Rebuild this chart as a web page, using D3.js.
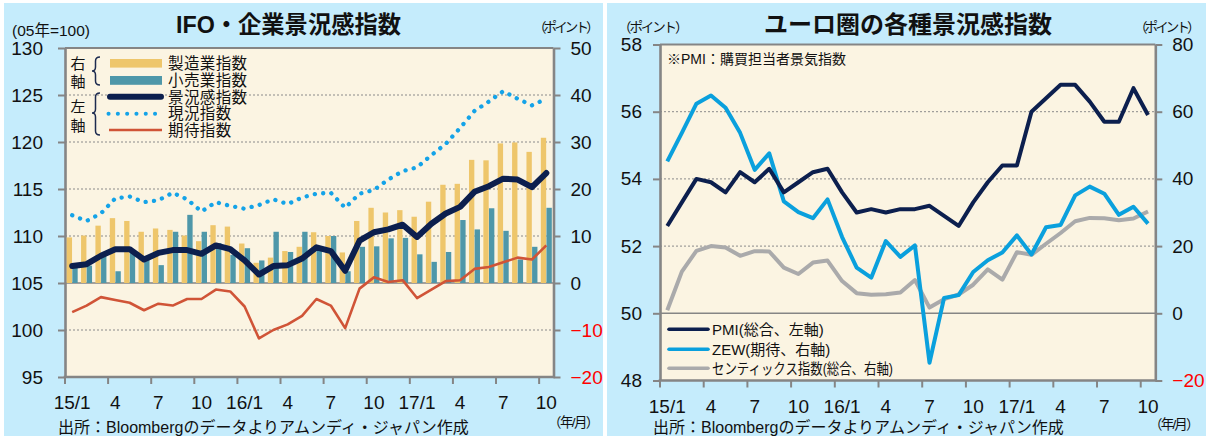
<!DOCTYPE html>
<html>
<head>
<meta charset="utf-8">
<script src="https://cdn.jsdelivr.net/npm/d3@7"></script>
<style>
  body { margin: 0; background: #fff; }
  svg { display: block; }
</style>
</head>
<body>
<svg width="1206" height="436"></svg>
<script>
// ---- data ----
var months = d3.range(34); // 2015/1 .. 2017/10
var tickMonths = [0, 3, 6, 9, 12, 15, 18, 21, 24, 27, 30, 33];
var tickLabels = ["15/1", "4", "7", "10", "16/1", "4", "7", "10", "17/1", "4", "7", "10"];

// IFO (left axis, 05=100)
var ifoClimate = [106.8, 107.0, 107.9, 108.6, 108.6, 107.5, 108.2, 108.5, 108.5, 108.1, 109.0, 108.6,
                  107.4, 105.9, 106.8, 106.9, 107.6, 108.8, 108.4, 106.3, 109.5, 110.4, 110.7, 111.2,
                  109.9, 111.3, 112.4, 113.1, 114.7, 115.3, 116.1, 116.0, 115.2, 116.7];
var ifoCurrent = [112.2, 111.6, 112.4, 114.0, 114.2, 113.6, 113.8, 114.6, 113.9, 112.6, 113.6, 113.2,
                  112.9, 113.3, 113.9, 113.4, 114.1, 114.5, 114.6, 113.0, 114.5, 114.9, 116.0, 116.9,
                  117.3, 118.6, 119.8, 121.5, 123.3, 124.3, 125.4, 124.6, 123.9, 124.6];
var ifoExpect = [101.9, 102.6, 103.5, 103.2, 102.9, 102.1, 102.8, 102.6, 103.3, 103.3, 104.3, 104.1,
                 102.5, 99.1, 100.0, 100.6, 101.5, 103.3, 102.6, 100.2, 104.4, 105.6, 105.1, 105.3,
                 103.4, 104.3, 105.2, 105.3, 106.5, 106.7, 107.2, 107.7, 107.5, 109.0];
// IFO sectors (right axis, points)
var ifoMfg = [9.7, 10.1, 12.2, 13.8, 13.2, 10.9, 11.6, 11.3, 10.1, 8.9, 12.3, 12.0,
              8.4, 4.3, 5.4, 6.8, 7.7, 10.8, 10.0, 6.5, 13.2, 16.0, 15.0, 15.5,
              14.1, 17.3, 20.9, 21.1, 26.2, 26.1, 29.7, 29.9, 27.9, 30.9];
var ifoRetail = [3.5, 3.7, 5.7, 2.5, 6.5, 5.0, 3.8, 10.9, 14.5, 10.9, 8.5, 6.0,
                 7.4, 4.8, 10.9, 6.6, 10.9, 7.0, 10.0, 2.5, 7.7, 7.8, 9.5, 9.6,
                 6.1, 4.5, 6.6, 13.4, 11.4, 15.9, 11.1, 5.0, 7.7, 16.0];

// Euro area
var pmi = [52.6, 53.3, 54.0, 53.9, 53.6, 54.2, 53.9, 54.3, 53.6, 53.9, 54.2, 54.3,
           53.6, 53.0, 53.1, 53.0, 53.1, 53.1, 53.2, 52.9, 52.6, 53.3, 53.9, 54.4,
           54.4, 56.0, 56.4, 56.8, 56.8, 56.3, 55.7, 55.7, 56.7, 55.9];
var zew = [45.2, 53.7, 62.4, 64.8, 61.2, 53.7, 42.7, 47.6, 33.3, 30.1, 28.3, 33.9,
           22.7, 13.6, 10.6, 21.5, 16.8, 20.2, -14.7, 4.6, 5.4, 12.3, 15.8, 18.1,
           23.2, 17.5, 25.6, 26.3, 35.1, 37.7, 35.6, 29.3, 31.7, 26.7];
var sentix = [0.9, 12.4, 18.6, 20.0, 19.6, 17.1, 18.5, 18.4, 13.6, 11.7, 15.1, 15.7,
              9.6, 6.0, 5.5, 5.7, 6.2, 9.9, 1.7, 4.2, 5.6, 8.5, 13.1, 10.0,
              18.2, 17.4, 20.7, 23.9, 27.4, 28.4, 28.3, 27.7, 28.2, 30.3];

var LAT = "'Liberation Sans', Arial, 'Noto Sans CJK JP', sans-serif";
var JP = "'Noto Sans CJK JP', sans-serif";
var GRAY = "#858585";
var NAVY = "#0c1f4e";

var svg = d3.select("svg");

// panel backgrounds
svg.append("rect").attr("x", 4).attr("y", 3).attr("width", 599).attr("height", 433).attr("fill", "#c5ecfc");
svg.append("rect").attr("x", 607).attr("y", 3).attr("width", 599).attr("height", 433).attr("fill", "#c5ecfc");

function txt(x, y, s, size, opts) {
  opts = opts || {};
  var t = svg.append("text")
      .attr("x", x).attr("y", y)
      .attr("font-family", opts.family || LAT)
      .attr("font-size", size)
      .attr("font-weight", opts.weight || "normal")
      .attr("fill", opts.fill || "#111")
      .attr("text-anchor", opts.anchor || "start")
      .text(s);
  if (opts.len) t.attr("textLength", opts.len).attr("lengthAdjust", "spacingAndGlyphs");
  if (opts.ls) t.attr("letter-spacing", opts.ls);
  if (opts.dy) t.attr("dy", opts.dy);
  return t;
}

function panel(cfg) {
  var g = svg.append("g");
  var x = cfg.x, yl = cfg.yl, yr = cfg.yr;
  var x0 = x.range()[0], x1 = x.range()[1];
  var top = yl.range()[1], bot = yl.range()[0];

  g.append("rect").attr("x", x0).attr("y", top).attr("width", x1 - x0).attr("height", bot - top)
    .attr("fill", "#fbf4e2");

  // dotted grid
  g.selectAll(".grid").data(cfg.grid).enter().append("line")
      .attr("x1", x0).attr("x2", x1)
      .attr("y1", function(d) { return yl(d); }).attr("y2", function(d) { return yl(d); })
      .attr("stroke", "#8a8a8a").attr("stroke-width", 1).attr("stroke-dasharray", "2,2");
  // zero line of right axis
  g.append("line").attr("x1", x0).attr("x2", x1).attr("y1", yr(0)).attr("y2", yr(0))
    .attr("stroke", GRAY).attr("stroke-width", 1.6);

  // top border
  g.append("line").attr("x1", x0).attr("x2", x1).attr("y1", top).attr("y2", top)
    .attr("stroke", GRAY).attr("stroke-width", 2);

  var left = g.append("g").attr("transform", "translate(" + x0 + ",0)")
      .call(d3.axisLeft(yl).tickValues(cfg.leftTicks).tickSize(7).tickSizeOuter(0).tickPadding(cfg.lpad));
  var right = g.append("g").attr("transform", "translate(" + x1 + ",0)")
      .call(d3.axisRight(yr).tickValues(cfg.rightTicks).tickSize(7).tickSizeOuter(0).tickPadding(10));
  [left, right].forEach(function(a) {
    a.select(".domain").attr("stroke", GRAY).attr("stroke-width", 2.6);
    a.selectAll(".tick line").attr("stroke", GRAY).attr("stroke-width", 2);
    a.selectAll(".tick text").attr("font-family", LAT).attr("font-size", 19).attr("fill", "#111");
  });
  right.selectAll(".tick text").attr("fill", function(d) { return d < 0 ? "#ff0000" : "#111"; });

  // bottom axis
  g.append("line").attr("x1", x0 - 1.3).attr("x2", x1 + 1.3).attr("y1", bot).attr("y2", bot)
    .attr("stroke", GRAY).attr("stroke-width", 2.6);
  g.selectAll(".xt").data(tickMonths).enter().append("line")
      .attr("x1", function(d) { return x(d); }).attr("x2", function(d) { return x(d); })
      .attr("y1", bot).attr("y2", bot + 7)
      .attr("stroke", GRAY).attr("stroke-width", 2);
  g.selectAll(".xl").data(tickMonths).enter().append("text")
      .attr("x", function(d) { return x(d) + x.bandwidth() / 2; })
      .attr("y", bot + 32)
      .attr("text-anchor", "middle")
      .attr("font-family", LAT).attr("font-size", 19).attr("fill", "#111")
      .text(function(d, i) { return tickLabels[i]; });
  return g;
}

// ================= left panel: IFO =================
var xL = d3.scaleBand().domain(months).range([65, 553.5]);
var yL = d3.scaleLinear().domain([95, 130]).range([377, 48]);
var yL2 = d3.scaleLinear().domain([-20, 50]).range([377, 48]);

var gL = panel({ x: xL, yl: yL, yr: yL2, grid: [100, 110, 115, 120, 125],
  leftTicks: [95, 100, 105, 110, 115, 120, 125, 130], rightTicks: [-20, -10, 0, 10, 20, 30, 40, 50], lpad: 15 });

var xSub = d3.scaleBand().domain(["mfg", "ret"]).range([0, xL.bandwidth()]).paddingInner(0.05).paddingOuter(0.3);
var barData = months.map(function(i) { return { i: i, mfg: ifoMfg[i], ret: ifoRetail[i] }; });
var bars = gL.append("g");
bars.selectAll(".mfg").data(barData).enter().append("rect")
    .attr("x", function(d) { return xL(d.i) + xSub("mfg"); })
    .attr("width", xSub.bandwidth())
    .attr("y", function(d) { return yL2(d.mfg); })
    .attr("height", function(d) { return yL2(0) - yL2(d.mfg); })
    .attr("fill", "#eec66b");
bars.selectAll(".ret").data(barData).enter().append("rect")
    .attr("x", function(d) { return xL(d.i) + xSub("ret"); })
    .attr("width", xSub.bandwidth())
    .attr("y", function(d) { return yL2(d.ret); })
    .attr("height", function(d) { return yL2(0) - yL2(d.ret); })
    .attr("fill", "#4e97a9");

var lineL = d3.line()
    .x(function(d, i) { return xL(i) + xL.bandwidth() / 2; })
    .y(function(d) { return yL(d); });

gL.append("path").datum(ifoExpect).attr("d", lineL)
  .attr("fill", "none").attr("stroke", "#d05437").attr("stroke-width", 2.6).attr("stroke-linejoin", "round");
gL.append("path").datum(ifoCurrent).attr("d", lineL)
  .attr("fill", "none").attr("stroke", "#14a3e8").attr("stroke-width", 4.3)
  .attr("stroke-linecap", "round").attr("stroke-dasharray", "0.1,8.3");
gL.append("path").datum(ifoClimate).attr("d", lineL)
  .attr("fill", "none").attr("stroke", NAVY).attr("stroke-width", 6)
  .attr("stroke-linejoin", "round").attr("stroke-linecap", "round");

// legend (left)
var lg = gL.append("g");
lg.append("rect").attr("x", 110).attr("y", 59).attr("width", 52).attr("height", 8.6).attr("fill", "#eec66b");
lg.append("rect").attr("x", 110).attr("y", 76).attr("width", 52).attr("height", 8.8).attr("fill", "#4e97a9");
lg.append("line").attr("x1", 110).attr("x2", 161).attr("y1", 96.8).attr("y2", 96.8)
  .attr("stroke", NAVY).attr("stroke-width", 6).attr("stroke-linecap", "round");
lg.append("line").attr("x1", 108.5).attr("x2", 156).attr("y1", 113.8).attr("y2", 113.8)
  .attr("stroke", "#14a3e8").attr("stroke-width", 4).attr("stroke-linecap", "round").attr("stroke-dasharray", "0.1,9.2");
lg.append("line").attr("x1", 109).attr("x2", 162).attr("y1", 130).attr("y2", 130)
  .attr("stroke", "#d05437").attr("stroke-width", 2.6);
var legNames = ["製造業指数", "小売業指数", "景況感指数", "現況指数", "期待指数"];
var legY = [63.5, 80.5, 97, 113.8, 130];
legNames.forEach(function(s, i) { txt(168, legY[i], s, 15.5, { dy: "0.36em", ls: 0.4 }); });
txt(78, 63.5, "右", 15, { anchor: "middle", dy: "0.36em" });
txt(78, 82, "軸", 15, { anchor: "middle", dy: "0.36em" });
txt(78, 107, "左", 15, { anchor: "middle", dy: "0.36em" });
txt(78, 126, "軸", 15, { anchor: "middle", dy: "0.36em" });
lg.append("path").attr("d", "M100,57 Q95.5,57 95.5,61 L95.5,67 Q95.5,71 92,71 Q95.5,71 95.5,75 L95.5,81 Q95.5,85 100,85")
  .attr("fill", "none").attr("stroke", "#1d2b4f").attr("stroke-width", 1.5);
lg.append("path").attr("d", "M100,93 Q95.5,93 95.5,97 L95.5,109 Q95.5,113 92,113 Q95.5,113 95.5,117 L95.5,131 Q95.5,135 100,135")
  .attr("fill", "none").attr("stroke", "#1d2b4f").attr("stroke-width", 1.5);

txt(176, 33, "IFO・企業景況感指数", 24, { weight: "bold", len: 225 });
txt(12, 36, "(05年=100)", 15.5);
txt(533, 32, "（ポイント）", 13.5, { family: JP, ls: -2.9 });
txt(548, 427, "（年/月）", 13.5, { ls: -1.6 });
txt(58, 433, "出所：Bloombergのデータよりアムンディ・ジャパン作成", 16);

// ================= right panel: Euro area =================
var xR = d3.scaleBand().domain(months).range([660, 1155.3]);
var yR = d3.scaleLinear().domain([48, 58]).range([380.5, 44.5]);
var yR2 = d3.scaleLinear().domain([-20, 80]).range([380.5, 44.5]);

var gR = panel({ x: xR, yl: yR, yr: yR2, grid: [52, 54, 56],
  leftTicks: [48, 50, 52, 54, 56, 58], rightTicks: [-20, 0, 20, 40, 60, 80], lpad: 11 });

var cx = function(d, i) { return xR(i) + xR.bandwidth() / 2; };
gR.append("path").datum(sentix).attr("d", d3.line().x(cx).y(function(d) { return yR2(d); }))
  .attr("fill", "none").attr("stroke", "#aaaaab").attr("stroke-width", 4).attr("stroke-linejoin", "round");
gR.append("path").datum(zew).attr("d", d3.line().x(cx).y(function(d) { return yR2(d); }))
  .attr("fill", "none").attr("stroke", "#0aa0dd").attr("stroke-width", 4).attr("stroke-linejoin", "round");
gR.append("path").datum(pmi).attr("d", d3.line().x(cx).y(function(d) { return yR(d); }))
  .attr("fill", "none").attr("stroke", NAVY).attr("stroke-width", 4).attr("stroke-linejoin", "round");

var rNames = ["PMI(総合、左軸)", "ZEW(期待、右軸)", "センティックス指数(総合、右軸)"];
var rColors = [NAVY, "#0aa0dd", "#aaaaab"];
var rY = [329.3, 349.3, 368.3];
rNames.forEach(function(s, i) {
  gR.append("line").attr("x1", 669).attr("x2", 708).attr("y1", rY[i]).attr("y2", rY[i])
    .attr("stroke", rColors[i]).attr("stroke-width", 3.6).attr("stroke-linecap", "round");
  txt(712, rY[i], s, 15, { dy: "0.36em", len: i === 2 ? 181 : null });
});
txt(667, 64, "※PMI：購買担当者景気指数", 14);

txt(908, 33, "ユーロ圏の各種景況感指数", 24, { family: JP, weight: "bold", anchor: "middle" });
txt(618, 32, "（ポイント）", 13.5, { family: JP, ls: -2.1 });
txt(1134, 32, "（ポイント）", 13.5, { family: JP, ls: -2.9 });
txt(1149, 429, "（年/月）", 13.5, { ls: -1.8 });
txt(653, 433, "出所：Bloombergのデータよりアムンディ・ジャパン作成", 16);
</script>
</body>
</html>
